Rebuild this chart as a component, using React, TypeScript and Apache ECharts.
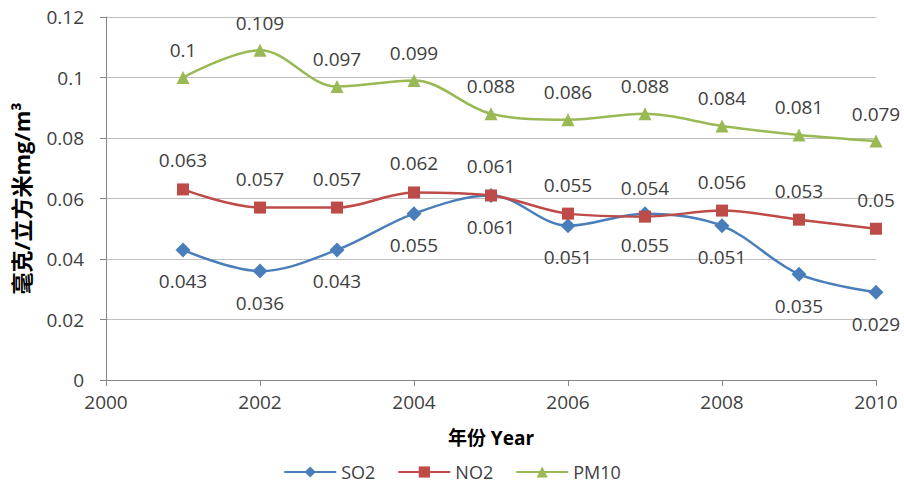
import React, { useEffect, useRef } from "react";
import * as echarts from "echarts";

const years = [2001, 2002, 2003, 2004, 2005, 2006, 2007, 2008, 2009, 2010];
const so2 = [0.043, 0.036, 0.043, 0.055, 0.061, 0.051, 0.055, 0.051, 0.035, 0.029];
const no2 = [0.063, 0.057, 0.057, 0.062, 0.061, 0.055, 0.054, 0.056, 0.053, 0.05];
const pm10 = [0.1, 0.109, 0.097, 0.099, 0.088, 0.086, 0.088, 0.084, 0.081, 0.079];

const FONT = "'Open Sans', 'Noto Sans CJK SC', sans-serif";
const TEXT = "#404040";

function pairs(values: number[]) {
  return years.map((y, i) => [y, values[i]]);
}

export default function App() {
  const ref = useRef<HTMLDivElement>(null);

  useEffect(() => {
    document.body.style.margin = "0";
    if (!ref.current) return;
    const chart = echarts.init(ref.current, undefined, { renderer: "svg" });

    const labelStyle = (pos: "top" | "bottom", dist: number) => ({
      show: true,
      position: pos,
      distance: dist,
      color: TEXT,
      fontFamily: FONT,
      fontSize: 19,
      lineHeight: 20,
      formatter: (p: any) => String(p.value[1]),
    });

    chart.setOption({
      animation: false,
      backgroundColor: "#ffffff",
      textStyle: { fontFamily: FONT },
      grid: {
        left: 106,
        right: 28,
        top: 17,
        bottom: 103,
        containLabel: false,
        outerBoundsMode: "none",
      },
      xAxis: {
        type: "value",
        min: 2000,
        max: 2010,
        interval: 2,
        name: "年份 Year",
        nameLocation: "middle",
        nameGap: 48,
        nameTextStyle: { color: "#000", fontSize: 19, fontWeight: "bold", fontFamily: FONT },
        axisLine: { show: true, lineStyle: { color: "#868686", width: 1 } },
        axisTick: { show: true, length: 6, lineStyle: { color: "#868686" } },
        axisLabel: { color: TEXT, fontSize: 19, margin: 12, fontFamily: FONT, formatter: (v: number) => String(v) },
        splitLine: { show: false },
      },
      yAxis: {
        type: "value",
        min: 0,
        max: 0.12,
        interval: 0.02,
        name: "毫克/立方米mg/m³",
        nameLocation: "middle",
        nameGap: 74,
        nameTextStyle: { color: "#000", fontSize: 22, fontWeight: "bold", fontFamily: FONT },
        axisLine: { show: true, lineStyle: { color: "#868686", width: 1 } },
        axisTick: { show: true, length: 6, lineStyle: { color: "#868686" } },
        axisLabel: {
          color: TEXT,
          fontSize: 19,
          margin: 22,
          fontFamily: FONT,
          formatter: (v: number) => String(+v.toFixed(2)),
        },
        splitLine: { show: true, lineStyle: { color: "#bfbfbf", width: 1 } },
      },
      legend: {
        top: 458,
        left: "center",
        itemWidth: 52,
        itemHeight: 14,
        itemGap: 22,
        textStyle: { color: TEXT, fontSize: 18, fontFamily: FONT },
        data: ["SO2", "NO2", "PM10"],
      },
      series: [
        {
          name: "SO2",
          type: "line",
          smooth: 0.35,
          data: pairs(so2),
          symbol: "diamond",
          symbolSize: 15,
          color: "#4a7ebb",
          lineStyle: { width: 2.5, color: "#4a7ebb" },
          itemStyle: { color: "#4a7ebb" },
          label: labelStyle("bottom", 14),
          z: 3,
        },
        {
          name: "NO2",
          type: "line",
          smooth: 0.35,
          data: pairs(no2),
          symbol: "rect",
          symbolSize: 12,
          color: "#be4b48",
          lineStyle: { width: 2.5, color: "#be4b48" },
          itemStyle: { color: "#be4b48" },
          label: labelStyle("top", 13),
          z: 3,
        },
        {
          name: "PM10",
          type: "line",
          smooth: 0.35,
          data: pairs(pm10),
          symbol: "triangle",
          symbolSize: 13,
          color: "#98b954",
          lineStyle: { width: 2.5, color: "#98b954" },
          itemStyle: { color: "#98b954" },
          label: labelStyle("top", 11),
          z: 3,
        },
      ],
    });

    return () => chart.dispose();
  }, []);

  return <div ref={ref} style={{ width: 904, height: 483 }} />;
}
